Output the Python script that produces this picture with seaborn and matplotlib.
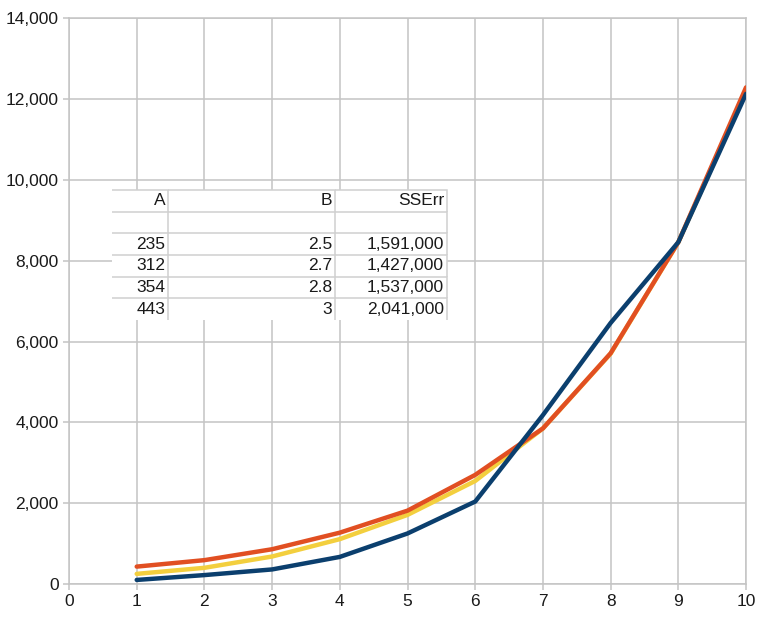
import numpy as np
import pandas as pd
import matplotlib
matplotlib.use("Agg")
import matplotlib.pyplot as plt
import seaborn as sns
from matplotlib.ticker import FuncFormatter
from matplotlib.patches import Rectangle

# chart values
x_vals   = [1, 2, 3, 4, 5, 6, 7, 8, 9, 10]
observed = [100, 220, 360, 670, 1250, 2040, 4180, 6460, 8460, 12130]
fit_a    = [430, 590, 860, 1270, 1815, 2700, 3850, 5710, 8460, 12290]
fit_b    = [250, 400, 680, 1110, 1710, 2550, 3850, 5700, 8460, 12200]

# table contents
tbl_header = ["A", "B", "SSErr"]
tbl_a      = ["235", "312", "354", "443"]
tbl_b      = ["2.5", "2.7", "2.8", "3"]
tbl_sserr  = ["1,591,000", "1,427,000", "1,537,000", "2,041,000"]

df = pd.DataFrame({"x": x_vals, "observed": observed,
                   "fit_a": fit_a, "fit_b": fit_b})

sns.set_theme(style="whitegrid")
plt.rcParams["font.family"] = ["Liberation Sans", "DejaVu Sans"]

grid_col = "#c4c4c4"
fig = plt.figure(figsize=(7.65, 6.2), dpi=100)
ax = fig.add_axes([0.0902, 0.0581, 0.8850, 0.9124])

sns.lineplot(data=df, x="x", y="fit_b", color="#f3cf3e", lw=3.2, ax=ax, zorder=2)
sns.lineplot(data=df, x="x", y="fit_a", color="#e14f22", lw=3.2, ax=ax, zorder=3)
sns.lineplot(data=df, x="x", y="observed", color="#0b3f6e", lw=3.2, ax=ax, zorder=4)

ax.set_xlim(0, 10)
ax.set_ylim(0, 14000)
ax.set_xticks(range(0, 11))
ax.set_yticks(range(0, 14001, 2000))
ax.yaxis.set_major_formatter(FuncFormatter(lambda v, p: f"{int(v):,}"))
ax.set_xlabel("")
ax.set_ylabel("")
ax.grid(True, color=grid_col, lw=1.1)
for s in ax.spines.values():
    s.set_color(grid_col)
    s.set_linewidth(1.1)
ax.tick_params(axis="both", which="major", length=4.5, width=1.1,
               color=grid_col, labelsize=12.5, labelcolor="#1a1a1a",
               pad=3, left=True, bottom=True)

# overlay table, with an opaque white box behind it
tbl_box = [0.0635, 0.4667, 0.4948, 0.2298]
ax.add_patch(Rectangle((tbl_box[0], tbl_box[1]), tbl_box[2], tbl_box[3],
                       transform=ax.transAxes, facecolor="white",
                       edgecolor="none", zorder=5))
cell_text = [tbl_header, ["", "", ""]] + [list(r) for r in zip(tbl_a, tbl_b, tbl_sserr)]
tbl = ax.table(cellText=cell_text, cellLoc="right",
               colWidths=[0.167, 0.4985, 0.334], bbox=tbl_box)
tbl.auto_set_font_size(False)
tbl.set_fontsize(12.5)
tbl.set_zorder(6)
pads = [0.05, 0.017, 0.026]
for (r, c), cell in tbl.get_celld().items():
    cell.visible_edges = "TR"
    cell.set_edgecolor("#d0d0d0")
    cell.set_linewidth(1.1)
    cell.set_facecolor("none")
    cell.PAD = pads[c]
    cell.get_text().set_color("#1a1a1a")

fig.savefig("out.png", dpi=100)
